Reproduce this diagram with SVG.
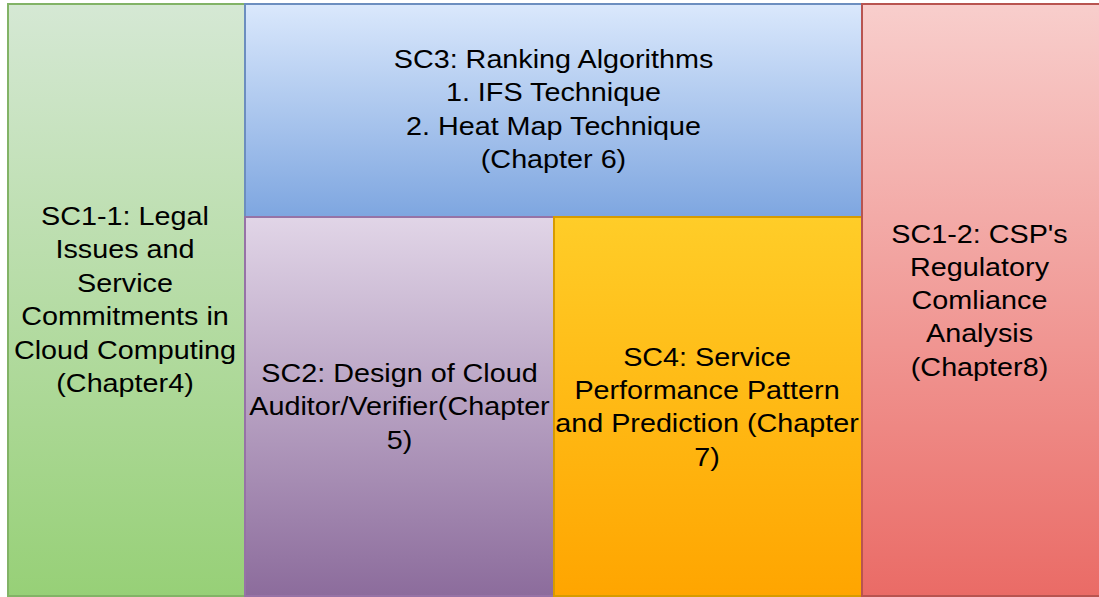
<svg xmlns="http://www.w3.org/2000/svg" width="1099" height="597" viewBox="0 0 1099 597">
<defs>
<linearGradient id="gG" x1="0" y1="0" x2="0" y2="1"><stop offset="0" stop-color="#d5e8d4"/><stop offset="1" stop-color="#97d077"/></linearGradient>
<linearGradient id="gB" x1="0" y1="0" x2="0" y2="1"><stop offset="0" stop-color="#dae8fc"/><stop offset="1" stop-color="#7ea6e0"/></linearGradient>
<linearGradient id="gP" x1="0" y1="0" x2="0" y2="1"><stop offset="0" stop-color="#e1d5e7"/><stop offset="1" stop-color="#8c6c9c"/></linearGradient>
<linearGradient id="gO" x1="0" y1="0" x2="0" y2="1"><stop offset="0" stop-color="#ffcd28"/><stop offset="1" stop-color="#ffa500"/></linearGradient>
<linearGradient id="gR" x1="0" y1="0" x2="0" y2="1"><stop offset="0" stop-color="#f8cecc"/><stop offset="1" stop-color="#ea6b66"/></linearGradient>
</defs>
<style>
rect{stroke-width:2}
text{font-family:"Liberation Sans",Arial,sans-serif;font-size:25px;fill:#000;text-anchor:middle}
</style>
<rect width="1099" height="597" fill="#ffffff" stroke="none"/>
<g id="sc1-1">
<rect x="8" y="4" width="237" height="592" fill="url(#gG)" stroke="#82b366"/>
<g transform="translate(125,0) scale(1.15,1)">
<text x="0" y="225">SC1-1: Legal</text>
<text x="0" y="258">Issues and</text>
<text x="0" y="292">Service</text>
<text x="0" y="325">Commitments in</text>
<text x="0" y="359">Cloud Computing</text>
<text x="0" y="392">(Chapter4)</text>
</g>
</g>
<g id="sc3">
<rect x="245" y="4" width="617" height="213" fill="url(#gB)" stroke="#6c8ebf"/>
<g transform="translate(553.5,0) scale(1.15,1)">
<text x="0" y="68">SC3: Ranking Algorithms</text>
<text x="0" y="101">1. IFS Technique</text>
<text x="0" y="135">2. Heat Map Technique</text>
<text x="0" y="168">(Chapter 6)</text>
</g>
</g>
<g id="sc2">
<rect x="245" y="217" width="309" height="379" fill="url(#gP)" stroke="#9673a6"/>
<g transform="translate(399.5,0) scale(1.15,1)">
<text x="0" y="382">SC2: Design of Cloud</text>
<text x="0" y="415">Auditor/Verifier(Chapter</text>
<text x="0" y="449">5)</text>
</g>
</g>
<g id="sc4">
<rect x="554" y="217" width="308" height="379" fill="url(#gO)" stroke="#d79b00"/>
<g transform="translate(707,0) scale(1.15,1)">
<text x="0" y="366">SC4: Service</text>
<text x="0" y="399">Performance Pattern</text>
<text x="0" y="432">and Prediction (Chapter</text>
<text x="0" y="466">7)</text>
</g>
</g>
<g id="sc1-2">
<rect x="862" y="4" width="240" height="592" fill="url(#gR)" stroke="#b85450"/>
<g transform="translate(979.5,0) scale(1.15,1)">
<text x="0" y="243">SC1-2: CSP's</text>
<text x="0" y="276">Regulatory</text>
<text x="0" y="309">Comliance</text>
<text x="0" y="342">Analysis</text>
<text x="0" y="376">(Chapter8)</text>
</g>
</g>
<g id="connectors"/>
</svg>
